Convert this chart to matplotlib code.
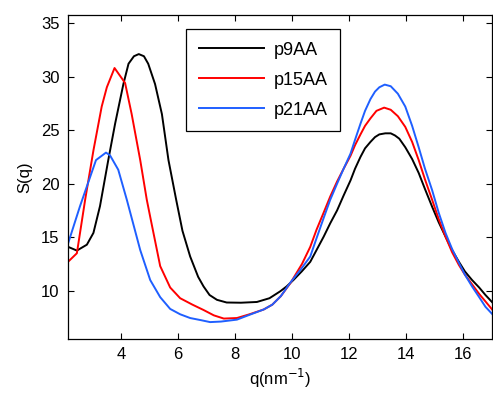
import matplotlib
matplotlib.use("Agg")
import matplotlib.pyplot as plt

# structure factor curves
q_p9 = [2.14, 2.45, 2.80, 3.03, 3.26, 3.55, 3.79, 4.08, 4.26, 4.45, 4.62, 4.80,
        4.95, 5.19, 5.43, 5.66, 5.93, 6.15, 6.42, 6.70, 6.89, 7.10, 7.36, 7.70,
        8.20, 8.76, 9.20, 9.58, 9.80, 10.04, 10.33, 10.63, 10.85, 11.10, 11.33,
        11.57, 11.80, 12.04, 12.20, 12.39, 12.55, 12.74, 12.90, 13.05, 13.26,
        13.45, 13.60, 13.75, 13.96, 14.20, 14.43, 14.65, 14.90, 15.13, 15.37,
        15.60, 15.84, 16.05, 16.30, 16.55, 16.77, 17.05]
S_p9 = [14.1, 13.75, 14.3, 15.4, 17.9, 22.2, 25.6, 29.3, 31.2, 31.9, 32.1, 31.9,
        31.2, 29.3, 26.5, 22.2, 18.5, 15.6, 13.2, 11.3, 10.4, 9.6, 9.15, 8.9,
        8.88, 8.95, 9.3, 9.95, 10.4, 11.0, 11.8, 12.7, 13.8, 15.05, 16.3,
        17.5, 18.9, 20.3, 21.4, 22.5, 23.3, 23.9, 24.35, 24.6, 24.7,
        24.7, 24.5, 24.2, 23.4, 22.3, 21.0, 19.5, 17.85, 16.4, 15.05,
        13.8, 12.7, 11.8, 11.0, 10.3, 9.6, 8.8]

q_p15 = [2.14, 2.45, 2.74, 3.03, 3.32, 3.50, 3.77, 4.14, 4.37, 4.67, 4.90, 5.02,
         5.37, 5.72, 6.07, 6.50, 6.89, 7.25, 7.60, 8.06, 8.50, 9.00, 9.30, 9.60,
         9.93, 10.34, 10.63, 10.85, 11.10, 11.33, 11.57, 11.80, 12.04, 12.20,
         12.39, 12.55, 12.74, 12.95, 13.22, 13.45, 13.70, 13.96, 14.20, 14.43,
         14.65, 14.90, 15.13, 15.37, 15.60, 15.84, 16.05, 16.30, 16.55, 16.77,
         17.05]
S_p15 = [12.7, 13.5, 18.5, 23.1, 27.2, 29.0, 30.8, 29.4, 26.5, 22.2, 18.5, 16.9,
         12.3, 10.3, 9.3, 8.7, 8.2, 7.7, 7.4, 7.45, 7.8, 8.25, 8.7, 9.5,
         10.7, 12.5, 14.1, 15.7, 17.3, 18.8, 20.2, 21.4, 22.6, 23.6,
         24.6, 25.4, 26.1, 26.8, 27.1, 26.9, 26.3, 25.3, 23.9, 22.2,
         20.4, 18.5, 16.7, 15.05, 13.6, 12.4, 11.5, 10.6, 9.7, 9.0,
         8.1]

q_p21 = [2.14, 2.56, 3.12, 3.47, 3.61, 3.90, 4.20, 4.67, 5.02, 5.37, 5.72, 6.07,
         6.42, 6.80, 7.12, 7.50, 8.06, 8.50, 9.00, 9.30, 9.60, 9.93, 10.30,
         10.63, 10.85, 11.10, 11.33, 11.57, 11.80, 12.04, 12.20, 12.39, 12.55,
         12.74, 12.90, 13.05, 13.24, 13.45, 13.70, 13.96, 14.20, 14.43, 14.65,
         14.90, 15.13, 15.37, 15.60, 15.84, 16.05, 16.30, 16.55, 16.77, 17.05]
S_p21 = [14.4, 17.9, 22.2, 22.9, 22.65, 21.3, 18.5, 13.8, 11.0, 9.4, 8.3, 7.8,
         7.45, 7.25, 7.07, 7.12, 7.3, 7.75, 8.25, 8.7, 9.5, 10.75, 12.0,
         13.2, 14.9, 16.8, 18.5, 20.0, 21.4, 22.8, 24.1, 25.6, 26.8,
         27.9, 28.6, 29.0, 29.25, 29.1, 28.4, 27.2, 25.4, 23.4, 21.4,
         19.4, 17.3, 15.4, 13.9, 12.6, 11.5, 10.4, 9.4, 8.5, 7.7]

labels = ["p9AA", "p15AA", "p21AA"]
colors = ["black", "#ff0000", "#1f5fff"]
xticks = [4, 6, 8, 10, 12, 14, 16]
yticks = [10, 15, 20, 25, 30, 35]

plt.rcParams['font.family'] = ['Liberation Sans', 'DejaVu Sans']

fig = plt.figure(figsize=(4.93, 3.95), dpi=100)
ax = fig.add_axes([0.138, 0.142, 0.860, 0.820])

for q, s, lab, col in zip([q_p9, q_p15, q_p21], [S_p9, S_p15, S_p21], labels, colors):
    ax.plot(q, s, color=col, linewidth=1.4, label=lab)

ax.set_xlim(2.14, 17.0)
ax.set_ylim(5.5, 35.75)
ax.set_xticks(xticks)
ax.set_yticks(yticks)
ax.tick_params(direction='in', top=True, right=True, length=4, width=0.8,
               labelsize=12, pad=6)
for sp in ax.spines.values():
    sp.set_linewidth(0.9)

ax.set_xlabel(r"q(nm$^{-1}$)", fontsize=12, labelpad=3)
ax.set_ylabel("S(q)", fontsize=12, labelpad=6)

leg = ax.legend(loc='upper left', bbox_to_anchor=(0.278, 0.957), borderaxespad=0,
                fontsize=13, handlelength=3.6, handletextpad=0.55,
                labelspacing=0.72, borderpad=0.7, fancybox=False,
                edgecolor='black', framealpha=1)
leg.get_frame().set_linewidth(0.9)

fig.savefig("out.png", dpi=100)
